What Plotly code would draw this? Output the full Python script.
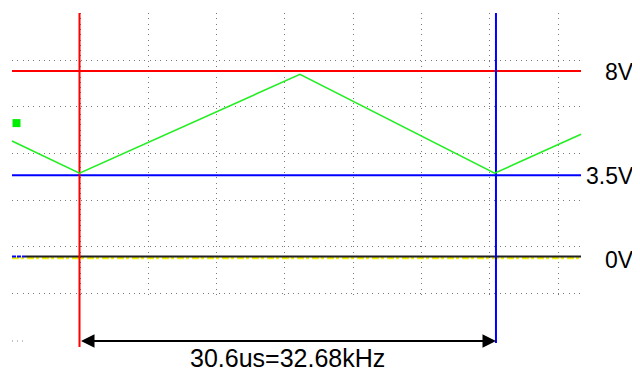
import plotly.graph_objects as go

# ---- data (time in microseconds, voltage in volts) ----
wave_t = [-4.96, 0.0, 16.2, 30.5, 36.85]
wave_v = [4.98, 3.59, 7.85, 3.59, 5.27]

cursor_t = [0.0, 30.6]          # vertical cursors (red, blue)
cursor_v = [8.0, 3.5]           # horizontal cursors (red, blue)
cursor_labels = ["8V", "3.5V"]
ground_v = 0.0
ground_label = "0V"
yellow_v = -0.06                # second channel trace (flat near 0 V)
chan_marker = (-4.63, 5.75)     # green channel marker
measure_text = "30.6us=32.68kHz"

# screen extent of the scope trace area
t_left, t_right = -4.96, 36.85
v_bottom_cursor = [-3.90, -3.73]
v_top = 10.496

# ---- pixel mapping helpers (layout only; window pixels) ----
WIN_W, WIN_H = 640, 372
OFF = 8                          # page body margin
W, H = WIN_W - OFF, WIN_H - OFF  # figure size
KX, X0 = 13.61, 79.5     # px per us, window px of t=0
KY, Y0 = 23.2, 256.5     # px per V, window px of 0V
def t_at(px): return (px - X0) / KX
def v_at(py): return (Y0 - py) / KY
def fx(px): return (px - OFF) / W
def fy(py): return 1 - (py - OFF) / H

RED = "#ff0000"
BLUE = "#0000ff"
GREEN = "#22ee22"
FONT = "Liberation Sans, Arial, sans-serif"

fig = go.Figure()

# grid subplot (empty trace)
fig.add_trace(go.Scatter(x=[None], y=[None], xaxis="x", yaxis="y", hoverinfo="skip", showlegend=False))

def add(**kw):
    kw.setdefault("xaxis", "x2")
    kw.setdefault("yaxis", "y2")
    kw.setdefault("hoverinfo", "skip")
    kw.setdefault("showlegend", False)
    fig.add_trace(go.Scatter(**kw))

# yellow channel near 0V
add(x=[t_left, t_right], y=[yellow_v, yellow_v], mode="lines",
    line=dict(color="#f0f000", width=2.5, dash="7px,2px,3px,3px"))
# ground marker line
add(x=[t_at(25), t_right], y=[ground_v, ground_v], mode="lines",
    line=dict(color="#202020", width=2))
add(x=[t_left, t_at(25)], y=[ground_v, ground_v], mode="lines",
    line=dict(color=BLUE, width=2, dash="4px,1px"))

# horizontal cursors
for v, c in zip(cursor_v, [RED, BLUE]):
    add(x=[t_left, t_right], y=[v, v], mode="lines", line=dict(color=c, width=2))
# vertical cursors
for t, c, vb in zip(cursor_t, [RED, BLUE], v_bottom_cursor):
    add(x=[t, t], y=[v_top, vb], mode="lines", line=dict(color=c, width=2))

# waveform
add(x=wave_t, y=wave_v, mode="lines", line=dict(color=GREEN, width=1.6))
# channel marker
add(x=[chan_marker[0]], y=[chan_marker[1]], mode="markers",
    marker=dict(symbol="square", size=8, color="#00ee00", line=dict(width=0)))

annotations = []
for v, lab, ys in zip(cursor_v, cursor_labels, [-1, -1]):
    annotations.append(dict(x=fx(636), xref="paper", y=v, yref="y2", text=lab,
                            showarrow=False, xanchor="right", yanchor="middle", yshift=ys,
                            font=dict(family=FONT, size=23, color="black")))
annotations.append(dict(x=fx(636), xref="paper", y=ground_v, yref="y2", text=ground_label,
                        showarrow=False, xanchor="right", yanchor="middle", yshift=-3,
                        font=dict(family=FONT, size=23, color="black")))
# measurement arrow
arrow_v = v_at(341)
annotations.append(dict(x=cursor_t[1], y=arrow_v, xref="x2", yref="y2",
                        ax=cursor_t[0], ay=arrow_v, axref="x2", ayref="y2",
                        text="", showarrow=True, arrowside="end+start",
                        arrowhead=2, startarrowhead=2, arrowsize=1.35, startarrowsize=1.35,
                        arrowwidth=2, arrowcolor="black", standoff=0, startstandoff=0))
annotations.append(dict(x=(cursor_t[0] + cursor_t[1]) / 2, xref="x2", y=fy(358), yref="paper",
                        text=measure_text, showarrow=False, xanchor="center", yanchor="middle",
                        font=dict(family=FONT, size=25, color="black")))

shapes = [dict(type="line", xref="paper", yref="paper", x0=fx(12), x1=fx(26),
               y0=fy(341), y1=fy(341), line=dict(color="#888888", width=1, dash="1px,4px"))]

grid_dash = "1px,4.3px"
grid_col = "#7a7a7a"
fig.update_layout(
    width=W, height=H,
    margin=dict(l=0, r=0, t=0, b=0),
    paper_bgcolor="white", plot_bgcolor="rgba(0,0,0,0)",
    showlegend=False,
    xaxis=dict(domain=[fx(12), fx(581)], anchor="y", range=[t_at(12), t_at(581)],
               tick0=t_at(80), dtick=68.3 / KX, showgrid=True, gridcolor=grid_col,
               gridwidth=1, griddash=grid_dash, zeroline=False, showline=False,
               showticklabels=False, ticks="", fixedrange=True),
    yaxis=dict(domain=[fy(296), fy(13)], anchor="x", range=[v_at(296), v_at(13)],
               tick0=v_at(60), dtick=46.67 / KY, showgrid=True, gridcolor=grid_col,
               gridwidth=1, griddash=grid_dash, zeroline=False, showline=False,
               showticklabels=False, ticks="", fixedrange=True),
    xaxis2=dict(domain=[0, 1], anchor="y2", range=[t_at(OFF), t_at(WIN_W)], showgrid=False,
                zeroline=False, showline=False, showticklabels=False, ticks=""),
    yaxis2=dict(domain=[0, 1], anchor="x2", range=[v_at(WIN_H), v_at(OFF)], showgrid=False,
                zeroline=False, showline=False, showticklabels=False, ticks=""),
    annotations=annotations,
    shapes=shapes,
)

fig.write_html("out.html")
